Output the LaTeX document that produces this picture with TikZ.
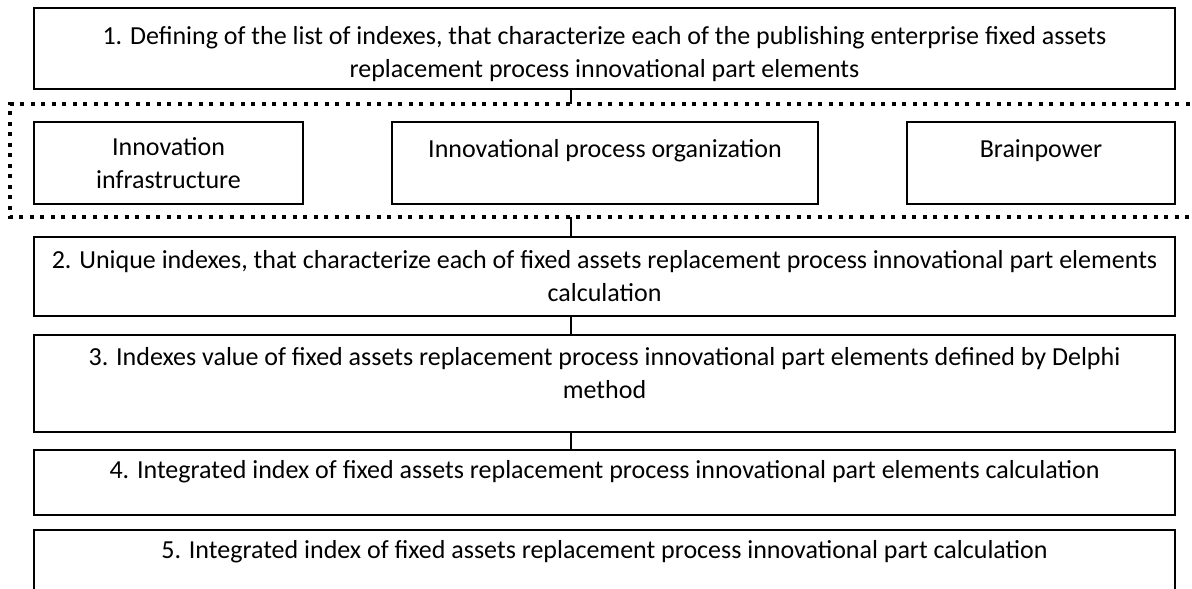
\documentclass[tikz,border=0pt]{standalone}
\usepackage{fontspec}
\setmainfont{Carlito}
\usetikzlibrary{positioning}

\tikzset{
    stage/.style={draw, line width=1.9pt, minimum width=1141pt, align=center, inner sep=2pt},
    part/.style={draw, line width=1.9pt, minimum height=82pt, align=center, inner sep=2pt},
    link/.style={line width=1.2pt},
    group/.style={line width=3.5pt, dash pattern=on 4pt off 6.5pt},
}

\begin{document}
\begin{tikzpicture}[x=1pt, y=-1pt, font=\fontsize{26}{33}\selectfont]
    \useasboundingbox (0,0) rectangle (1192,589);
    \node[stage, minimum height=81pt] (s1) at (604.5,48.5) {\rule{0pt}{30pt}1. Defining of the list of indexes, that characterize each of the publishing enterprise fixed assets\\ replacement process innovational part elements};
    \node[part, minimum width=269pt] (infra) at (168.5,163) {Innovation\\ infrastructure};
    \node[part, minimum width=426pt] (orga) at (605,163) {Innovational process organization\\[-14pt] \strut};
    \node[part, minimum width=268pt] (brain) at (1041,163) {Brainpower\\[-14pt] \strut};
    \node[stage, minimum height=79pt] (s2) at (604.5,276.5) {2. Unique indexes, that characterize each of fixed assets replacement process innovational part elements\\ calculation};
    \node[stage, minimum height=97pt] (s3) at (604.5,383.5) {3. Indexes value of fixed assets replacement process innovational part elements defined by Delphi\\ method\\[-22pt] \strut};
    \node[stage, minimum height=65pt] (s4) at (604.5,482.5) {4. Integrated index of fixed assets replacement process innovational part elements calculation\\[-16pt] \strut};
    \node[stage, minimum height=65pt] (s5) at (604.5,562.5) {5. Integrated index of fixed assets replacement process innovational part calculation\\[-16pt] \strut};
    \coordinate (gtop) at (10,104);
    \coordinate (gbot) at (10,217);
    \coordinate (gtopR) at (1200,104);
    \coordinate (gbotR) at (1200,217);
    \coordinate (jx) at (571,0);
    \draw[group] (gtopR) -- (gtop) -- (gbot) -- (gbotR);
    \draw[link] (s1.south -| jx) -- (gtop -| jx);
    \draw[link] (gbot -| jx) -- (s2.north -| jx);
    \draw[link] (s2.south -| jx) -- (s3.north -| jx);
    \draw[link] (s3.south -| jx) -- (s4.north -| jx);
\end{tikzpicture}
\end{document}
